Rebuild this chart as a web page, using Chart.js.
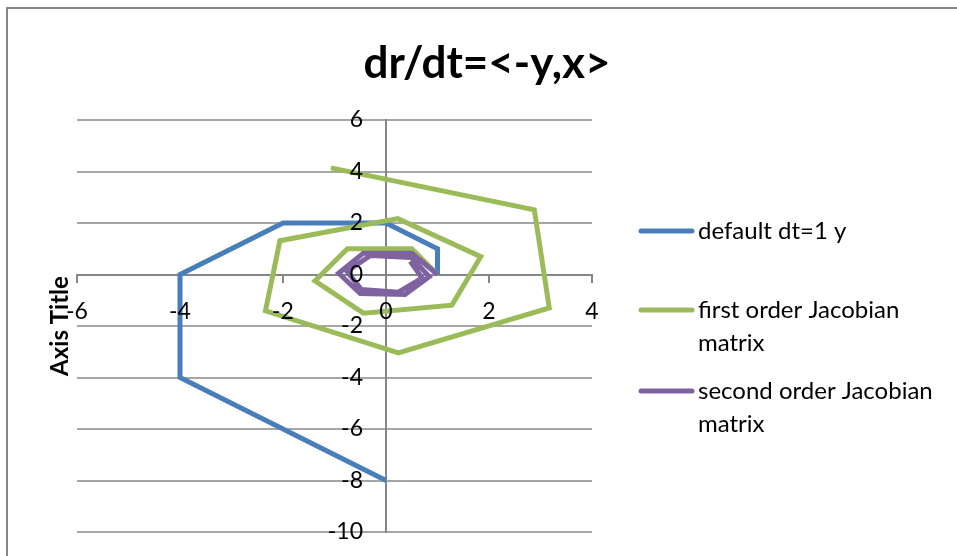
<!DOCTYPE html>
<html>
<head>
<meta charset="utf-8">
<script src="https://cdn.jsdelivr.net/npm/chart.js@4.4.0/dist/chart.umd.min.js"></script>
<style>
  html, body { margin: 0; padding: 0; background: #fff; }
  canvas { display: block; }
</style>
</head>
<body>
<canvas id="chart" width="957" height="556"></canvas>
<script>
var chartTitle = 'dr/dt=<-y,x>';
var yAxisTitle = 'Axis Title';
var seriesNames = ['default dt=1 y', 'first order Jacobian matrix', 'second order Jacobian matrix'];
var legendLines = [['default dt=1 y'], ['first order Jacobian', 'matrix'], ['second order Jacobian', 'matrix']];
var seriesColors = ['#4A7EBB', '#9BBB59', '#7F63A1'];

// euler step, dt = 1
var defaultX = [1, 1, 0, -2, -4, -4, 0];
var defaultY = [0, 1, 2, 2, 0, -4, -8];

var firstX = [1, 0.5, -0.75, -1.38, -0.44, 1.28, 1.84, 0.23, -2.06, -2.34, 0.24, 3.17, 2.88, -1.07];
var firstY = [0, 1, 1, -0.25, -1.5, -1.19, 0.69, 2.17, 1.31, -1.41, -3.04, -1.3, 2.51, 4.14];

var secondX = [1, 0.5, -0.44, -0.92, -0.5, 0.37, 0.84, 0.49, -0.3, -0.76, -0.48, 0.24, 0.7, 0.47];
var secondY = [0, 0.83, 0.83, 0.05, -0.74, -0.78, -0.08, 0.66, 0.74, 0.12, -0.58, -0.69, -0.14, 0.51];

var xTicks = [-6, -4, -2, 0, 2, 4];
var yTicks = [-10, -8, -6, -4, -2, 0, 2, 4, 6];

var fontFamily = 'Lato, "Open Sans", sans-serif';

function points(xs, ys) {
  return xs.map(function (x, i) {
    return {x: x, y: ys[i]};
  });
}

var seriesData = [points(defaultX, defaultY), points(firstX, firstY), points(secondX, secondY)];

var datasets = seriesData.map(function (d, i) {
  return {
    label: seriesNames[i],
    data: d,
    showLine: true,
    borderColor: seriesColors[i],
    backgroundColor: seriesColors[i],
    borderWidth: 5,
    pointRadius: 0,
    pointHoverRadius: 0,
    fill: false,
    tension: 0,
    order: 3 - i
  };
});

var decor = {
  id: 'decor',
  beforeDraw: function (chart) {
    var ctx = chart.ctx;
    ctx.save();
    ctx.strokeStyle = '#868686';
    ctx.lineWidth = 2;
    ctx.beginPath();
    ctx.moveTo(7, 556);
    ctx.lineTo(7, 8);
    ctx.lineTo(957, 8);
    ctx.stroke();
    ctx.restore();
  },
  afterDraw: function (chart) {
    var ctx = chart.ctx;
    var area = chart.chartArea;
    ctx.save();
    ctx.fillStyle = '#000';
    ctx.textAlign = 'center';
    ctx.textBaseline = 'alphabetic';
    ctx.font = 'bold 44px ' + fontFamily;
    ctx.fillText(chartTitle, 487, 78);

    ctx.save();
    ctx.translate(68, (area.top + area.bottom) / 2);
    ctx.rotate(-Math.PI / 2);
    ctx.font = 'bold 24px ' + fontFamily;
    ctx.fillText(yAxisTitle, 0, 0);
    ctx.restore();

    // legend, drawn by hand so the names can wrap like the original
    var rowY = [231, 310, 391];
    ctx.font = '24px ' + fontFamily;
    ctx.textAlign = 'left';
    ctx.textBaseline = 'middle';
    ctx.lineCap = 'round';
    chart.data.datasets.forEach(function (ds, i) {
      ctx.strokeStyle = ds.borderColor;
      ctx.lineWidth = 5;
      ctx.beginPath();
      ctx.moveTo(641, rowY[i]);
      ctx.lineTo(692, rowY[i]);
      ctx.stroke();
      legendLines[i].forEach(function (line, j) {
        ctx.fillText(line, 698, rowY[i] + j * 33);
      });
    });
    ctx.restore();
  }
};

new Chart(document.getElementById('chart'), {
  type: 'scatter',
  data: {datasets: datasets},
  options: {
    responsive: false,
    animation: false,
    events: [],
    layout: {padding: {left: 77, top: 120, right: 365, bottom: 24}},
    plugins: {
      legend: {display: false},
      title: {display: false},
      tooltip: {enabled: false}
    },
    scales: {
      x: {
        type: 'linear',
        position: {y: 0},
        min: xTicks[0],
        max: xTicks[xTicks.length - 1],
        ticks: {stepSize: 2, padding: 16, color: '#000', font: {family: fontFamily, size: 23}, z: 1},
        grid: {drawOnChartArea: false, tickLength: 7, color: '#868686', lineWidth: 2},
        border: {color: '#868686', width: 2}
      },
      y: {
        type: 'linear',
        position: {x: 0},
        min: yTicks[0],
        max: yTicks[yTicks.length - 1],
        ticks: {
          stepSize: 2,
          color: '#000',
          font: {family: fontFamily, size: 23},
          z: 1,
          callback: function (v) { return String(v) + '\u2002\u2002'; }
        },
        grid: {color: '#a6a6a6', lineWidth: 2, tickLength: 7},
        border: {color: '#868686', width: 2}
      }
    }
  },
  plugins: [decor]
});
</script>
</body>
</html>
